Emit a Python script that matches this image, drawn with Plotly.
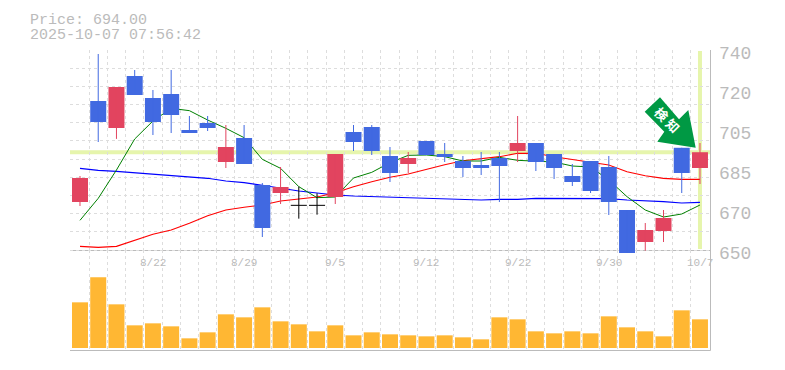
import plotly.graph_objects as go

W, H = 785, 370

DATES = ["8/18","8/19","8/20","8/21","8/22","8/25","8/26","8/27","8/28","8/29","9/1","9/2","9/3","9/4","9/5",
         "9/8","9/9","9/10","9/11","9/12","9/16","9/17","9/18","9/19","9/22","9/24","9/25","9/26","9/29","9/30",
         "10/1","10/2","10/3","10/6","10/7"]
OPEN = [671.6,717.05,704.9,728.3,718.4,720.2,704,707.15,689.6,700.4,679.25,675.65,670.1,670.1,673.85,
        703.1,705.35,692.3,688.7,699.05,693.2,690.05,688.25,691.4,694.55,698.15,693.2,683.3,690.05,687.35,
        668,653.6,658.55,696,686.9]
HIGH = [683.3,738.2,723.35,731,722,731,710.3,710.3,706.25,706.25,680.15,687.35,678.5,675.5,693.2,
        706.25,706.25,696.35,694.1,699.05,698.15,692.3,694.1,694.1,710.3,698.15,693.2,688.7,690.05,692.3,
        668,662.15,668,696,698.15]
LOW = [669.8,698.6,700,719.75,701.75,702.65,702.65,703.55,686.9,688.7,655.85,670.7,664.1,665.9,670.7,
       694.55,692.75,680.6,684.65,692.75,689.6,682.85,683.75,671.6,689.6,685.55,681.95,678.8,675.65,665.75,
       648.65,649.7,653.6,675.65,679.7]
CLOSE = [682.4,707.6,723.35,719.75,707.6,710.75,702.65,704.9,696.35,688.7,659.9,678.35,670.1,670.1,693.2,
         698.6,694.55,684.65,691.4,692.75,691.85,686.9,686.9,687.8,698.15,689.6,686.9,680.6,676.55,671.6,
         648.65,659,664.4,684.65,694]
MA_GREEN = [663.35,673.25,686,699.95,708.05,713.75,712.7,708.5,704.75,700.55,690.8,686.75,678.5,673.55,673.85,
            682.4,684.95,689.3,692.6,692.75,692,690.05,690.05,691.7,690.35,690.05,689.6,687.8,687.35,681.5,
            674,668,664.85,666.2,670.25]
MA_RED = [651.65,651.2,651.65,654.5,657.05,659,662,665.45,668,669.2,670.25,672.05,673.1,673.85,675.8,
          678.5,680.75,682.7,684.2,686.45,688.4,690.2,690.95,692,693.5,693.5,692,690.8,689.75,688.25,
          685.25,683.45,682.25,681.8,681.8]
MA_BLUE = [686.75,685.85,685.4,684.8,684.2,683.6,683.15,682.25,681.05,680.3,679.1,677.75,676.55,675.65,674.75,
           674.3,674,673.85,673.4,673.25,672.95,672.5,672.5,672.8,672.8,673.25,673.25,673.25,673.25,673.1,
           672.5,672.2,671.75,671.15,671.45]
VOLUME = [137,212,131,68,74,65,29,47,101,92,122,80,71,50,68,38,47,41,
          38,35,38,32,26,92,86,50,44,50,44,95,62,50,35,113,86]
PRICE_TICKS = [650,668,686,704,722,740]
PRICE_TEXT = ["650","670","685","705","720","740"]
DATE_TICK_IDX = [4,9,14,19,24,29,34]
LAST_PRICE = 694

FONT = "Liberation Mono"
GREY = "#bbbbbb"
GRID = "#dddddd"
RED = "#e2445f"
BLUE = "#4169e1"
BLACK = "#000000"
YELLOW = "#e6f5ac"
GREEN_ARROW = "#009944"

X = list(range(len(DATES)))
px = lambda v: v / W
py = lambda v: 1 - v / H
pick = lambda arr, idx: [arr[i] for i in idx]
UP = [i for i in X if CLOSE[i] > OPEN[i]]
DOWN = [i for i in X if CLOSE[i] < OPEN[i]]
DOJI = [i for i in X if CLOSE[i] == OPEN[i]]

fig = go.Figure()
for vals, col, w in [(MA_BLUE, "#0000ff", 1.1), (MA_RED, "#ff0000", 1.1), (MA_GREEN, "#008000", 1)]:
    fig.add_trace(go.Scatter(x=X, y=vals, mode="lines", line=dict(color=col, width=w),
                             xaxis="x", yaxis="y", hoverinfo="skip"))

# bodies
for idx, col in [(UP, RED), (DOWN, BLUE)]:
    fig.add_trace(go.Bar(x=idx, base=[min(OPEN[i], CLOSE[i]) for i in idx],
                         y=[abs(CLOSE[i] - OPEN[i]) for i in idx], width=0.877,
                         marker=dict(color=col, line=dict(width=0)), xaxis="x", yaxis="y2", hoverinfo="skip"))
# wicks, and the level mark of open == close days (error bars stay pixel-crisp)
for idx, col in [(UP, RED), (DOWN, BLUE), (DOJI, BLACK)]:
    kw = {}
    if col == BLACK:
        kw["error_x"] = dict(type="constant", value=0.44, color=col, thickness=1, width=0)
    fig.add_trace(go.Scatter(
        x=idx, y=pick(CLOSE, idx), mode="markers", marker=dict(size=1, opacity=0),
        error_y=dict(type="data", symmetric=False, array=[HIGH[i] - CLOSE[i] for i in idx],
                     arrayminus=[CLOSE[i] - LOW[i] for i in idx], color=col, thickness=1, width=0),
        xaxis="x", yaxis="y2", hoverinfo="skip", **kw))
fig.add_trace(go.Bar(x=X, y=VOLUME, width=0.877, marker=dict(color="#ffb733", line=dict(width=0)),
                     xaxis="x2", yaxis="y3", hoverinfo="skip"))

# callout arrow, on a hidden axis pair scaled in page pixels
ARROW_X = [660, 644.7, 664.3, 657.3, 695.7, 688.3, 679, 660]
ARROW_Y = [97.3, 111.7, 131.7, 141.7, 147.7, 110, 119.3, 97.3]
fig.add_trace(go.Scatter(x=ARROW_X, y=ARROW_Y, mode="lines", fill="toself", fillcolor=GREEN_ARROW,
                         line=dict(width=0, color=GREEN_ARROW), xaxis="x3", yaxis="y4", hoverinfo="skip"))

xr = [-0.548, 34.55]
xgrid = [i - 0.5 for i in X] + [34.5]
ygrid = [650 + k * 90 / 11 for k in range(12)]
pr = [648.2, 740]
pdom = [py(254), py(50)]
gridkw = dict(showgrid=True, gridcolor=GRID, griddash="3px,3px", gridwidth=1, zeroline=False,
              showticklabels=False, ticks="")
hidden = dict(showgrid=False, zeroline=False, showticklabels=False, ticks="")
fig.update_layout(
    width=W, height=H, autosize=False, margin=dict(l=0, r=0, t=0, b=0),
    paper_bgcolor="white", plot_bgcolor="rgba(0,0,0,0)", showlegend=False, barmode="overlay",
    xaxis=dict(domain=[px(70), px(710)], range=xr, tickmode="array", tickvals=xgrid, anchor="y", **gridkw),
    yaxis=dict(domain=pdom, range=pr, tickmode="array", tickvals=ygrid, anchor="x", **gridkw),
    yaxis2=dict(domain=pdom, range=pr, overlaying="y", anchor="x", **hidden),
    xaxis2=dict(domain=[px(70), px(710)], range=xr, tickmode="array", tickvals=xgrid, anchor="y3",
                showline=False, **gridkw),
    yaxis3=dict(domain=[py(350), py(250)], range=[-6, 294], anchor="x2", **hidden),
    xaxis3=dict(domain=[0, 1], range=[0, W], anchor="y4", **hidden),
    yaxis4=dict(domain=[0, 1], range=[H, 0], anchor="x3", **hidden),
)

shapes = [
    dict(type="line", xref="x", yref="y", x0=xr[0], x1=xr[1], y0=LAST_PRICE, y1=LAST_PRICE,
         line=dict(color=YELLOW, width=4), layer="below"),
    dict(type="line", xref="x", yref="paper", x0=34, x1=34, y0=py(51), y1=py(249),
         line=dict(color=YELLOW, width=4), layer="below"),
    dict(type="line", xref="paper", yref="paper", x0=px(70), x1=px(710.5), y0=py(250.5), y1=py(250.5),
         line=dict(color=GREY, width=1), layer="below"),
    dict(type="line", xref="paper", yref="paper", x0=px(70), x1=px(710.5), y0=py(350.5), y1=py(350.5),
         line=dict(color=GREY, width=1), layer="above"),
    dict(type="line", xref="paper", yref="paper", x0=px(710.5), x1=px(710.5), y0=py(50), y1=py(350.5),
         line=dict(color=GREY, width=1), layer="above"),
]
fig.update_layout(shapes=shapes)

ann = [
    dict(text=f"Price: {LAST_PRICE:.2f}", x=px(28), y=py(20)),
    dict(text="2025-10-07 07:56:42", x=px(28), y=py(35)),
]
annotations = [dict(xref="paper", yref="paper", xanchor="left", yanchor="middle", showarrow=False,
                    font=dict(family=FONT, size=15, color=GREY), **a) for a in ann]
for v, t in zip(PRICE_TICKS, PRICE_TEXT):
    annotations.append(dict(text=t, xref="paper", yref="y", x=px(717), y=v, yshift=-4, xanchor="left",
                            yanchor="middle", showarrow=False, font=dict(family=FONT, size=18, color=GREY)))
for i in DATE_TICK_IDX:
    annotations.append(dict(text=DATES[i], xref="x2", yref="paper", x=i, y=py(263), xanchor="center",
                            yanchor="middle", showarrow=False, font=dict(family=FONT, size=11, color=GREY)))
annotations.append(dict(text="検 知", xref="paper", yref="paper", x=px(667.2), y=py(119.5), textangle=45,
                        xanchor="center", yanchor="middle", showarrow=False,
                        font=dict(family="Noto Sans CJK JP", size=13, color="#ffffff", weight="bold")))
fig.update_layout(annotations=annotations)

fig.write_html("out.html", config=dict(displayModeBar=False),
               post_script="document.body.style.margin='0';document.body.style.overflow='hidden';")
